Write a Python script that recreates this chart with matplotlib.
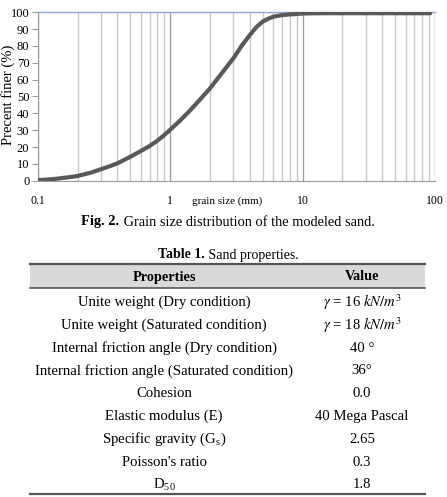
import matplotlib
matplotlib.use("Agg")
import matplotlib.pyplot as plt
from matplotlib.lines import Line2D
from matplotlib.patches import Rectangle
from matplotlib.ticker import FixedLocator, NullFormatter

plt.rcParams['font.family'] = ['Liberation Serif', 'DejaVu Serif']
plt.rcParams['mathtext.fontset'] = 'stix'

# ---- data ----
grain_size = [0.1, 0.115, 0.14, 0.17, 0.2, 0.25, 0.3, 0.35, 0.4, 0.5, 0.6, 0.7, 0.8, 0.9,
              1.0, 1.2, 1.41, 1.7, 2.0, 2.45, 3.0, 3.47, 4.0, 4.51, 5.0, 5.5, 6.0, 7.0,
              8.0, 9.0, 10.0, 12.0, 15.0, 20.0, 50.0, 92.0]
percent_finer = [0.4, 0.6, 1.2, 2.0, 2.8, 4.7, 6.8, 8.6, 10.3, 14.2, 17.6, 20.6, 23.7, 27.0,
                 30.2, 36.0, 41.6, 48.6, 54.8, 63.7, 72.6, 80.1, 86.5, 91.4, 94.4, 96.1, 97.3, 98.3,
                 98.7, 98.95, 99.2, 99.35, 99.4, 99.4, 99.4, 99.4]
x_tick_values = [0.1, 1, 10, 100]
x_tick_labels = ["0.1", "1", "10", "100"]
y_ticks = list(range(0, 101, 10))

caption_bold = "Fig. 2."
caption_text = " Grain size distribution of the modeled sand."
table_title_bold = "Table 1."
table_title_text = " Sand properties."
table_headers = ["Properties", "Value"]
properties = ["Unite weight (Dry condition)",
              "Unite weight (Saturated condition)",
              "Internal friction angle (Dry condition)",
              "Internal friction angle (Saturated condition)",
              "Cohesion",
              "Elastic modulus (E)",
              "Specific gravity (G$_\\mathregular{s}$)",
              "Poisson's ratio",
              "D$_\\mathregular{50}$"]
values = [r"$\gamma$ = 16 $kN/m^3$",
          r"$\gamma$ = 18 $kN/m^3$",
          "40 °",
          "36°",
          "0.0",
          "40 Mega Pascal",
          "2.65",
          "0.3",
          "1.8"]

W, H = 447, 497
fig = plt.figure(figsize=(W / 100, H / 100), dpi=100)

def fx(px):
    return px / W

def fy(py):
    return 1 - py / H

# ---- chart ----
ax = fig.add_axes([fx(37.7), fy(180.7), fx(435) - fx(37.7), fy(12.2) - fy(180.7)])
ax.set_xscale('log')
ax.set_xlim(0.1, 100)
ax.set_ylim(0, 100)

minor = [m * d for d in (0.1, 1, 10) for m in range(2, 10)]
for v in minor:
    ax.axvline(v, color='#c8c8c8', lw=1.0, zorder=1)
for v in x_tick_values:
    ax.axvline(v, color='#a0a0a0', lw=1.0, zorder=1)

ax.plot(grain_size, percent_finer, color='#595959', lw=3.0, solid_capstyle='round',
        solid_joinstyle='round', zorder=3)

ax.xaxis.set_major_locator(FixedLocator(x_tick_values))
ax.set_xticklabels(x_tick_labels)
ax.xaxis.set_minor_locator(FixedLocator(minor))
ax.xaxis.set_minor_formatter(NullFormatter())
ax.set_yticks(y_ticks)
ax.tick_params(axis='x', which='both', length=0, labelsize=8.5, pad=10)
ax.tick_params(axis='y', length=4, color='#9a9a9a', labelsize=9, pad=2)
ax.spines['right'].set_visible(False)
ax.spines['top'].set_color('#8eaadb')
ax.spines['top'].set_linewidth(1.0)
ax.spines['left'].set_color('#9a9a9a')
ax.spines['bottom'].set_color('#9a9a9a')
fig.text(fx(8), fy(95), "Precent finer (%)", fontsize=10.5, rotation=90, ha='center', va='center')
fig.text(fx(227), fy(201), "grain size (mm)", fontsize=8, ha='center', va='center')

# ---- rich text helper ----
renderer = fig.canvas.get_renderer()

def rich_center(xc, yc, bold, normal, size):
    t1 = fig.text(0, yc, bold, fontsize=size, weight='bold', ha='left', va='center')
    t2 = fig.text(0, yc, normal, fontsize=size, ha='left', va='center')
    w1 = t1.get_window_extent(renderer).width
    w2 = t2.get_window_extent(renderer).width
    x0 = xc * W - (w1 + w2) / 2
    t1.set_x(x0 / W)
    t2.set_x((x0 + w1) / W)

rich_center(fx(228), fy(222), caption_bold, caption_text, 10.4)
rich_center(fx(228), fy(255), table_title_bold, table_title_text, 10)

# ---- table ----
left_px, right_px = 30, 425
fig.add_artist(Rectangle((fx(left_px), fy(288)), fx(right_px) - fx(left_px), fy(263) - fy(288),
                         transform=fig.transFigure, facecolor='#d9d9d9', edgecolor='none', zorder=0))
for yl, lw in [(263.5, 1.6), (288, 1.2), (494, 1.6)]:
    fig.add_artist(Line2D([fx(left_px), fx(right_px)], [fy(yl), fy(yl)],
                          transform=fig.transFigure, color='#555555', lw=lw))

col1, col2 = 164, 362
fig.text(fx(col1), fy(277), table_headers[0], fontsize=10.3, weight='bold', ha='center', va='center')
fig.text(fx(col2), fy(277), table_headers[1], fontsize=10.3, weight='bold', ha='center', va='center')

row0, dy = 302.5, 22.8
for i, (p, v) in enumerate(zip(properties, values)):
    y = fy(row0 + i * dy)
    fig.text(fx(col1), y, p, fontsize=10.6, ha='center', va='center')
    fig.text(fx(col2), y, v, fontsize=10.6, ha='center', va='center')

fig.savefig("out.png", dpi=100)
